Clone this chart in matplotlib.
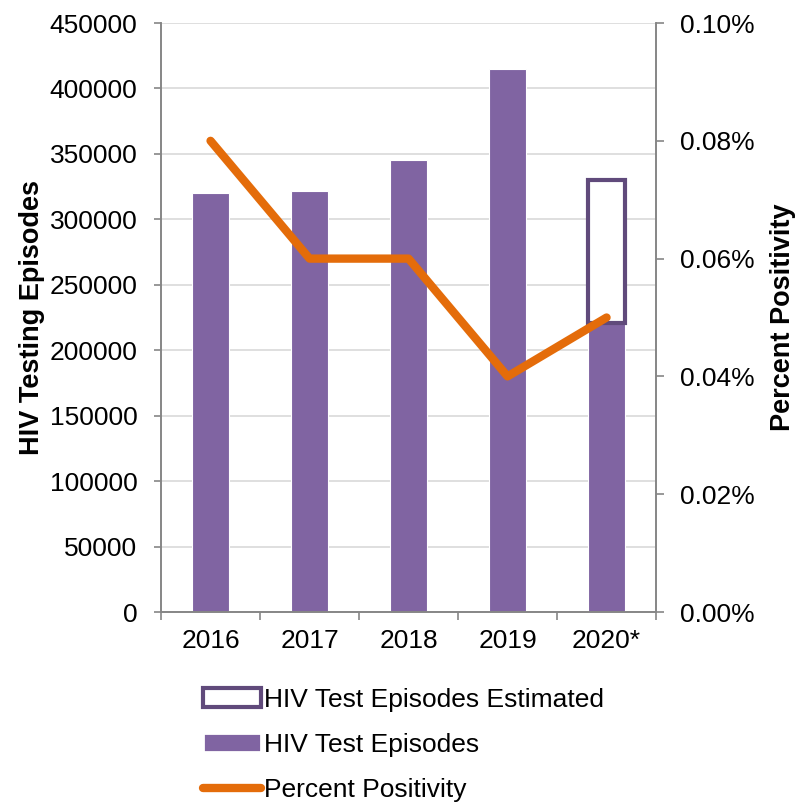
import matplotlib.pyplot as plt
from matplotlib.patches import Patch
from matplotlib.lines import Line2D

plt.rcParams['font.family'] = ['Liberation Sans', 'DejaVu Sans']

years = ['2016', '2017', '2018', '2019', '2020*']
test_episodes = [320000, 322000, 345000, 415000, 221000]
estimated_2020 = 330000
percent_positivity = [0.08, 0.06, 0.06, 0.04, 0.05]

BAR_COLOR = '#8064A2'
EDGE_COLOR = '#604A7B'
LINE_COLOR = '#E46C0A'
SPINE_COLOR = '#868686'
GRID_COLOR = '#D9D9D9'
FS = 19

fig = plt.figure(figsize=(7.96, 8.02), dpi=100)
ax = fig.add_axes([0.2023, 0.2369, 0.6219, 0.7344])
ax2 = ax.twinx()

x = list(range(len(years)))
ax.bar(x, test_episodes, width=0.38, color=BAR_COLOR, edgecolor='white', linewidth=0.8, zorder=2)
# 2020 estimate drawn as an outlined box stacked on the reported value
ax.bar(x[-1], estimated_2020 - test_episodes[-1], bottom=test_episodes[-1], width=0.38,
       facecolor='white', edgecolor=EDGE_COLOR, linewidth=3, zorder=3)

ax.set_xlim(-0.5, len(years) - 0.5)
ax.set_ylim(0, 450000)
ax.set_yticks(range(0, 450001, 50000))
ax.yaxis.grid(True, color=GRID_COLOR, linewidth=1.2, zorder=0)
ax.set_axisbelow(True)
ax.set_xticks(x)
ax.set_xticklabels(years)
ax.set_xticks([i - 0.5 for i in range(len(years) + 1)], minor=True)
ax.tick_params(axis='x', which='major', length=0, pad=12, labelsize=FS)
ax.tick_params(axis='x', which='minor', length=6, width=1.2, color=SPINE_COLOR)
ax.tick_params(axis='y', length=5, width=1.2, color=SPINE_COLOR, labelsize=FS, pad=12)
ax.set_ylabel('HIV Testing Episodes', fontsize=19.5, fontweight='bold', labelpad=3.5)

ax2.plot(x, percent_positivity, color=LINE_COLOR, linewidth=6, solid_capstyle='round', zorder=5)
ax2.set_ylim(0, 0.10)
pct_ticks = [0, 0.02, 0.04, 0.06, 0.08, 0.10]
ax2.set_yticks(pct_ticks)
ax2.set_yticklabels([f'{v:.2f}%' for v in pct_ticks])
ax2.tick_params(axis='y', length=6, width=1.2, color=SPINE_COLOR, labelsize=FS, pad=11)
ax2.set_ylabel('Percent Positivity', fontsize=19.5, fontweight='bold', labelpad=11)

for a in (ax, ax2):
    a.spines['top'].set_visible(False)
    for s in ('left', 'right', 'bottom'):
        a.spines[s].set_color(SPINE_COLOR)
        a.spines[s].set_linewidth(1.2)

handles = [
    Patch(facecolor='white', edgecolor=EDGE_COLOR, linewidth=3),
    Patch(facecolor=BAR_COLOR, edgecolor='white', linewidth=2),
    Line2D([0], [0], color=LINE_COLOR, linewidth=6, solid_capstyle='round'),
]
labels = ['HIV Test Episodes Estimated', 'HIV Test Episodes', 'Percent Positivity']
fig.legend(handles, labels, loc='upper left', bbox_to_anchor=(0.255, 0.1426), frameon=False,
           fontsize=FS, handlelength=2.2, handleheight=0.7, handletextpad=0.1, labelspacing=0.8,
           borderpad=0, borderaxespad=0)

fig.savefig('out.png', dpi=100)
